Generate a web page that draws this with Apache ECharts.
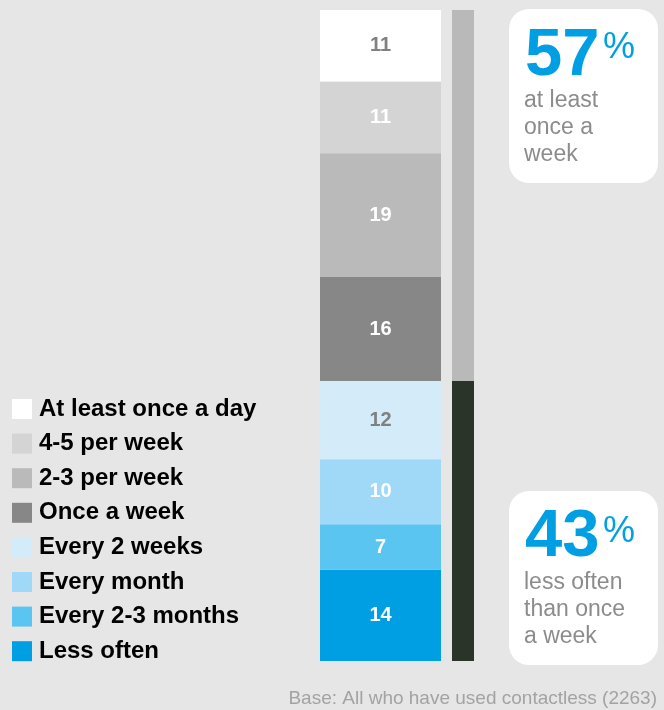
<!DOCTYPE html>
<html>
<head>
<meta charset="utf-8">
<style>
  html, body { margin: 0; padding: 0; background: #e6e6e6; }
  #chart { width: 664px; height: 710px; }
</style>
<script src="https://cdn.jsdelivr.net/npm/echarts@6/dist/echarts.min.js"></script>
</head>
<body>
<div id="chart"></div>
<script>
// frequency categories, top of the bar first
const categories = ['At least once a day', '4-5 per week', '2-3 per week', 'Once a week',
  'Every 2 weeks', 'Every month', 'Every 2-3 months', 'Less often'];
const values = [11, 11, 19, 16, 12, 10, 7, 14];
const colors = ['#ffffff', '#d4d4d4', '#bababa', '#878787', '#d4ecfa', '#a0d9f7', '#5bc5f2', '#009fe3'];
const labelColors = ['#808080', '#ffffff', '#ffffff', '#ffffff', '#808080', '#ffffff', '#ffffff', '#ffffff'];

// summary bar: at least once a week / less often
const summaryNames = ['at least once a week', 'less often than once a week'];
const summaryValues = [57, 43];
const summaryColors = ['#b9b9b9', '#2b3429'];

const font = '"Liberation Sans", Arial, Helvetica, sans-serif';

const chart = echarts.init(document.getElementById('chart'));

// stacking goes bottom-up, so add series in reverse
const series = [];
for (let i = categories.length - 1; i >= 0; i--) {
  series.push({
    name: categories[i],
    type: 'bar',
    stack: 'freq',
    xAxisIndex: 0,
    yAxisIndex: 0,
    barWidth: '100%',
    data: [values[i]],
    itemStyle: { color: colors[i] },
    label: {
      show: true,
      position: 'inside',
      color: labelColors[i],
      fontFamily: font,
      fontWeight: 'bold',
      fontSize: 20
    },
    emphasis: { disabled: true }
  });
}
for (let i = summaryValues.length - 1; i >= 0; i--) {
  series.push({
    name: summaryNames[i],
    type: 'bar',
    stack: 'summary',
    xAxisIndex: 1,
    yAxisIndex: 1,
    barWidth: '100%',
    data: [summaryValues[i]],
    itemStyle: { color: summaryColors[i] },
    emphasis: { disabled: true }
  });
}

const bigNum = { fontFamily: font, fontWeight: 'bold', fontSize: 67, fill: '#009fe3' };
const pct = { fontFamily: font, fontSize: 36, fill: '#009fe3' };
const sub = { fontFamily: font, fontSize: 23, fill: '#8c8c8c', lineHeight: 27 };

chart.setOption({
  backgroundColor: '#e6e6e6',
  animation: false,
  grid: [
    { left: 320, top: 10, width: 121, bottom: 49 },
    { left: 452, top: 10, width: 22, bottom: 49 }
  ],
  xAxis: [
    { type: 'category', data: ['all'], show: false, gridIndex: 0 },
    { type: 'category', data: ['all'], show: false, gridIndex: 1 }
  ],
  yAxis: [
    { type: 'value', min: 0, max: 100, show: false, gridIndex: 0 },
    { type: 'value', min: 0, max: 100, show: false, gridIndex: 1 }
  ],
  legend: {
    data: categories,
    orient: 'vertical',
    left: 12,
    top: 397,
    padding: 0,
    itemWidth: 20,
    itemHeight: 20,
    itemGap: 10.6,
    icon: 'rect',
    selectedMode: false,
    textStyle: {
      color: '#000',
      fontFamily: font,
      fontWeight: 'bold',
      fontSize: 24,
      padding: [0, 0, 0, 2]
    }
  },
  series: series,
  graphic: [
    { type: 'rect', shape: { x: 509, y: 9, width: 149, height: 174, r: 20 }, style: { fill: '#fff' } },
    { type: 'text', x: 525, y: 57, style: Object.assign({ text: String(summaryValues[0]), verticalAlign: 'middle' }, bigNum) },
    { type: 'text', x: 603, y: 48, style: Object.assign({ text: '%', verticalAlign: 'middle' }, pct) },
    { type: 'text', x: 524, y: 87, style: Object.assign({ text: 'at least\nonce a\nweek', verticalAlign: 'top' }, sub) },

    { type: 'rect', shape: { x: 509, y: 491, width: 149, height: 174, r: 20 }, style: { fill: '#fff' } },
    { type: 'text', x: 525, y: 538, style: Object.assign({ text: String(summaryValues[1]), verticalAlign: 'middle' }, bigNum) },
    { type: 'text', x: 603, y: 532, style: Object.assign({ text: '%', verticalAlign: 'middle' }, pct) },
    { type: 'text', x: 524, y: 569, style: Object.assign({ text: 'less often\nthan once\na week', verticalAlign: 'top' }, sub) },

    { type: 'text', right: 7, top: 689, style: { text: 'Base: All who have used contactless (2263)', fontFamily: font, fontSize: 19, fill: '#a3a3a3' } }
  ]
});
</script>
</body>
</html>
